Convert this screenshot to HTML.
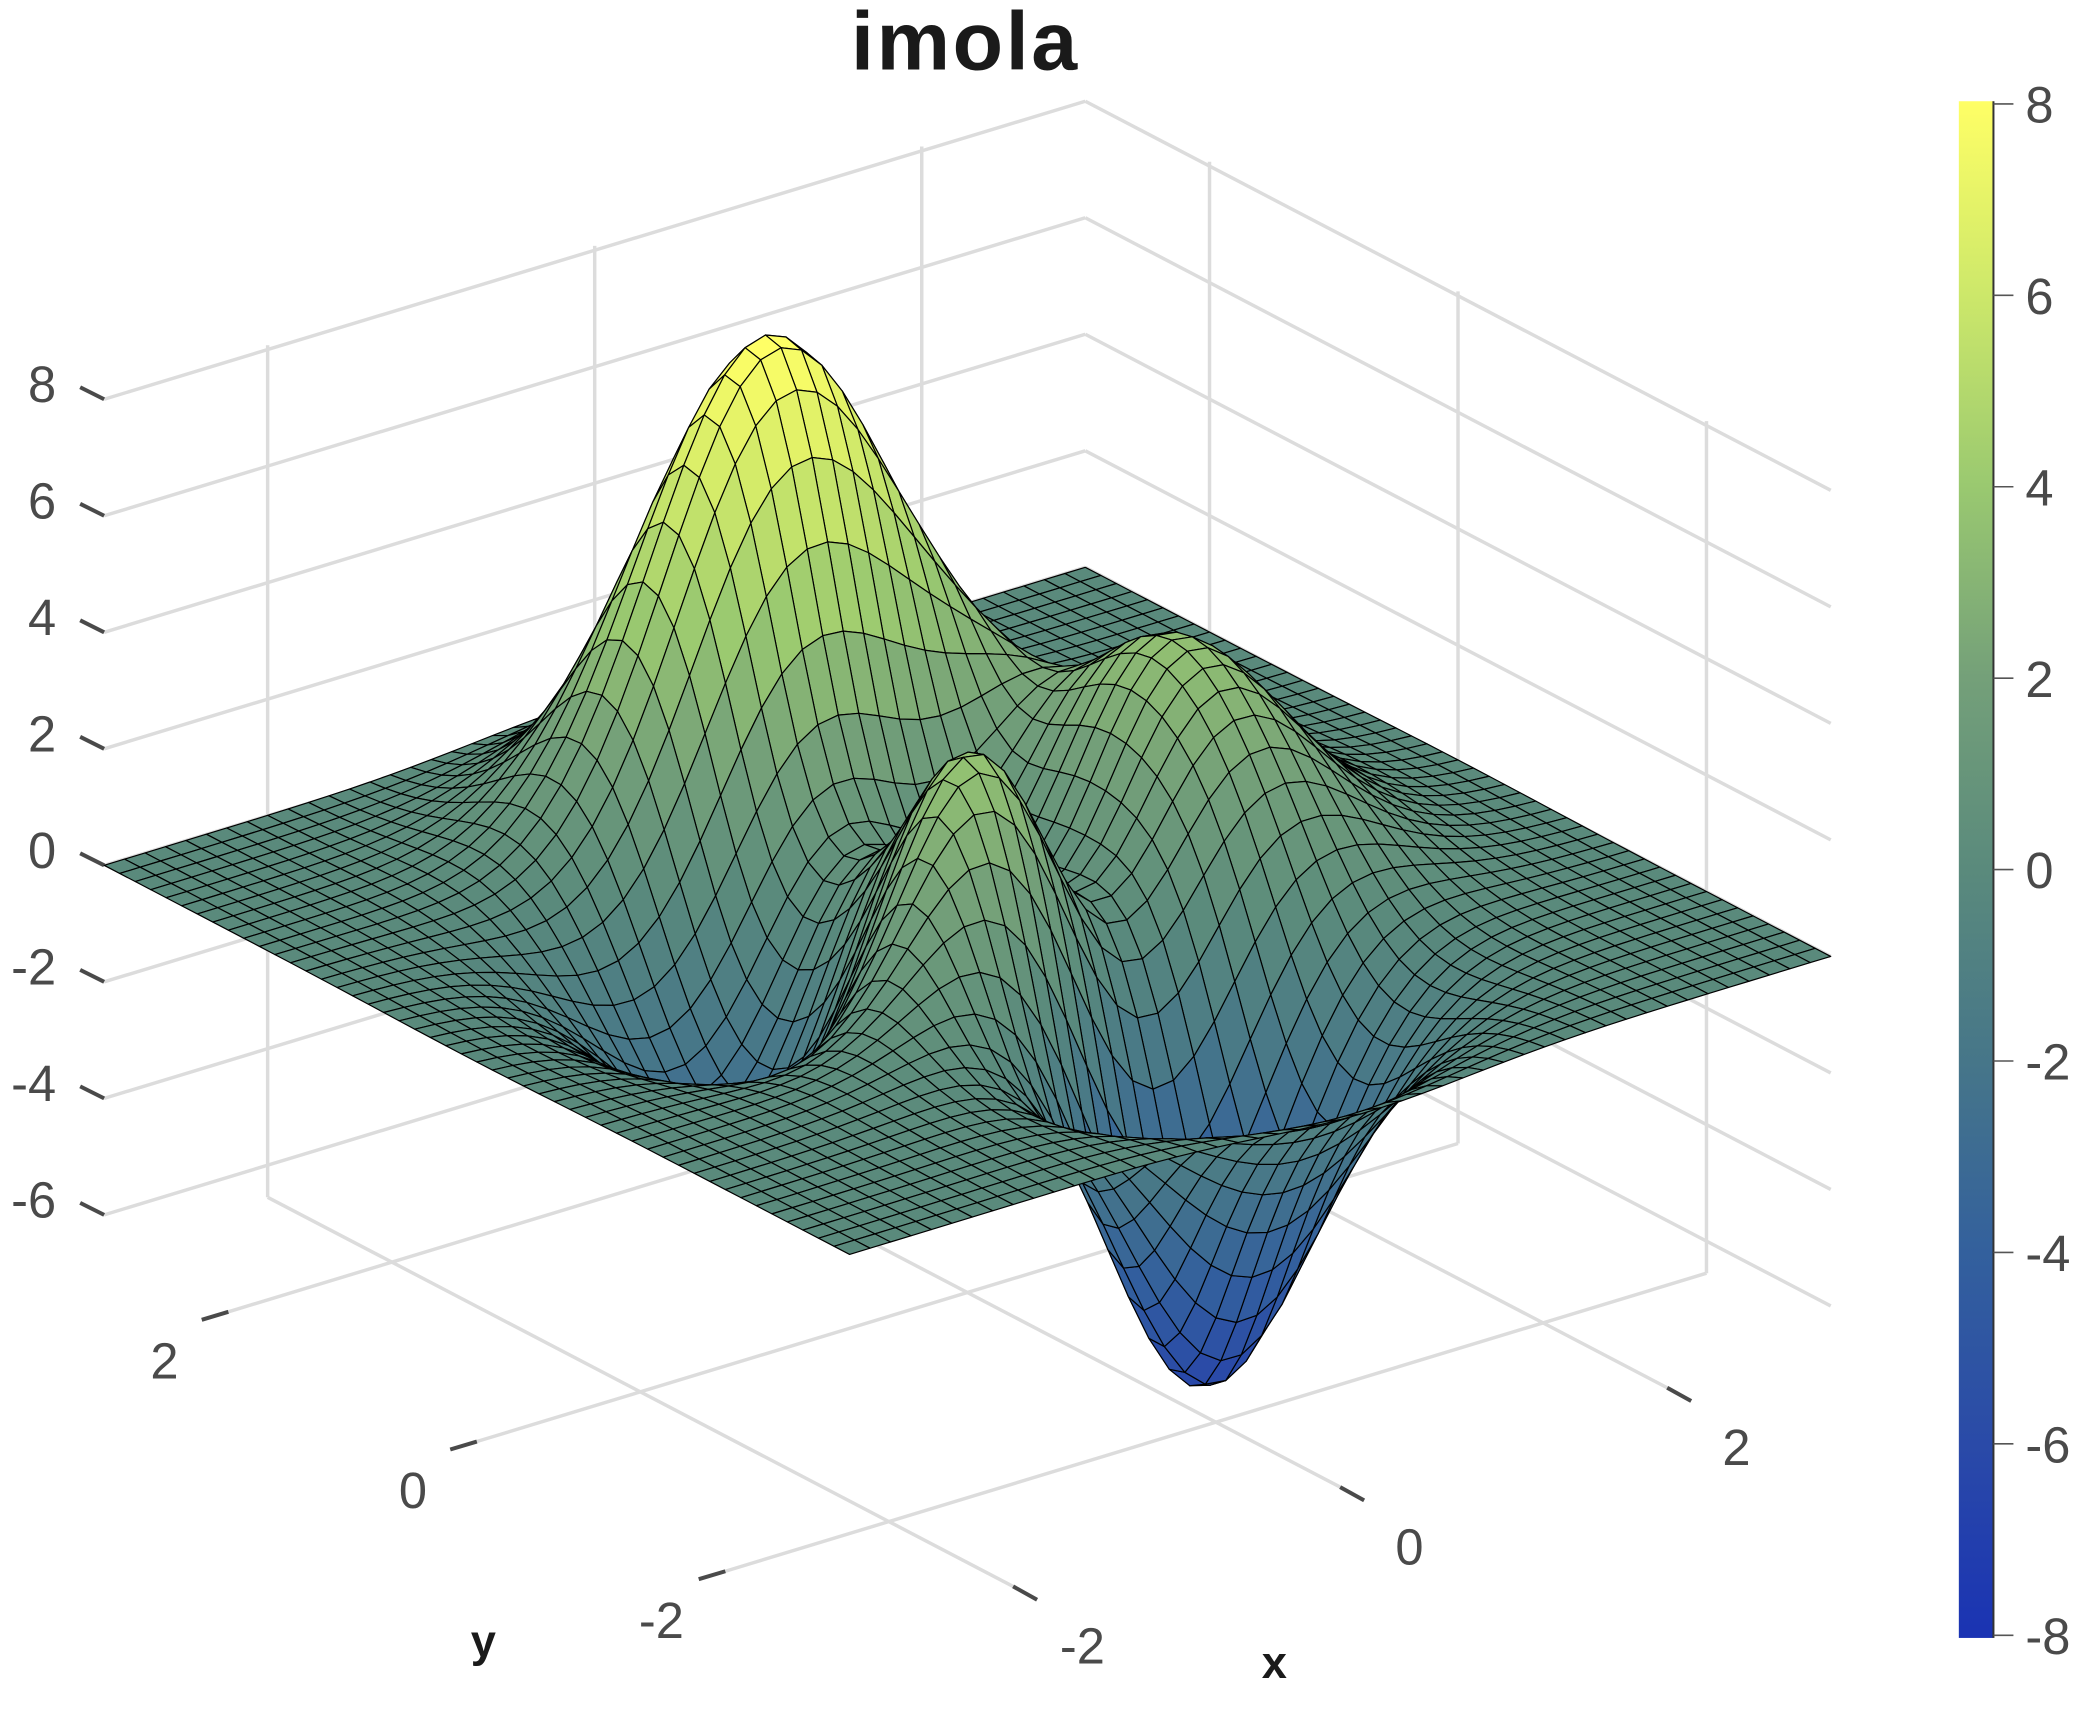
<!DOCTYPE html>
<html><head><meta charset="utf-8">
<style>
html,body{margin:0;padding:0;background:#fff;}
svg{display:block;}
text{font-family:"Liberation Sans",sans-serif;}
</style></head>
<body>
<svg id="chart" width="2088" height="1716" viewBox="0 0 1568 1288.6" xmlns="http://www.w3.org/2000/svg">
<rect x="0" y="0" width="1568" height="1288.6" fill="#ffffff"/>
<g id="grid"></g>
<g id="ticks"></g>
<g id="surf"></g>
<g id="cbar"></g>
<text x="725" y="52" text-anchor="middle" font-size="62" font-weight="bold" fill="#1a1a1a" letter-spacing="2">imola</text>
<text x="957" y="1260" text-anchor="middle" font-size="34" font-weight="bold" fill="#1a1a1a">x</text>
<text x="363" y="1244" text-anchor="middle" font-size="34" font-weight="bold" fill="#1a1a1a">y</text>
</svg>
<script>
const xTicks = [-2, 0, 2];
const yTicks = [-2, 0, 2];
const zTicks = [-6, -4, -2, 0, 2, 4, 6, 8];
const cbarTicks = [-8, -6, -4, -2, 0, 2, 4, 6, 8];
const xLim = [-3, 3];
const yLim = [-3, 3];
const zLim = [-6.5510, 8.0752];
const cLim = [-8, 8];
const gridN = 49;
const cmapStops = [[26,51,179],[42,74,168],[51,96,157],[70,118,137],[90,138,124],[116,160,121],[154,201,112],[205,232,106],[255,255,102]];

const NS = 'http://www.w3.org/2000/svg';
// projection (display coordinates)
const O = [726.5, 684], EX = [122.8, -37.3], EY = [-93.3, -48.7], EZ = -43.75;
function P(x, y, z) { return [O[0] + x * EX[0] + y * EY[0], O[1] + x * EX[1] + y * EY[1] + z * EZ]; }
function peaks(x, y) {
  return 3 * (1 - x) * (1 - x) * Math.exp(-x * x - (y + 1) * (y + 1))
    - 10 * (x / 5 - x * x * x - Math.pow(y, 5)) * Math.exp(-x * x - y * y)
    - 1 / 3 * Math.exp(-(x + 1) * (x + 1) - y * y);
}
function cmap(v) {
  let t = (v - cLim[0]) / (cLim[1] - cLim[0]); t = Math.max(0, Math.min(1, t));
  const f = t * (cmapStops.length - 1), i = Math.min(cmapStops.length - 2, Math.floor(f)), r = f - i;
  const a = cmapStops[i], b = cmapStops[i + 1];
  return 'rgb(' + [0, 1, 2].map(k => Math.round(a[k] + (b[k] - a[k]) * r)).join(',') + ')';
}
function line(g, p, q, stroke, w, name) {
  const l = document.createElementNS(NS, 'line');
  l.setAttribute('x1', p[0]); l.setAttribute('y1', p[1]); l.setAttribute('x2', q[0]); l.setAttribute('y2', q[1]);
  l.setAttribute('stroke', stroke); l.setAttribute('stroke-width', w);
  
  
  g.appendChild(l);
}
function text(g, x, y, s, anchor, name) {
  const t = document.createElementNS(NS, 'text');
  t.setAttribute('x', x); t.setAttribute('y', y); t.setAttribute('text-anchor', anchor);
  t.setAttribute('font-size', '38'); t.setAttribute('fill', '#4a4a4a');
  t.textContent = s;
  
  
  g.appendChild(t);
}
const grid = document.getElementById('grid');
const gc = '#dcdcdc', gw = 2.6;
const zf = zLim[0], zt = zLim[1];
// back wall y = 3
xTicks.forEach(x => line(grid, P(x, yLim[1], zf), P(x, yLim[1], zt), gc, gw, 'grid-line-x'));
zTicks.forEach(z => line(grid, P(xLim[0], yLim[1], z), P(xLim[1], yLim[1], z), gc, gw, 'grid-line-z'));
// back wall x = 3
yTicks.forEach(y => line(grid, P(xLim[1], y, zf), P(xLim[1], y, zt), gc, gw, 'grid-line-y'));
zTicks.forEach(z => line(grid, P(xLim[1], yLim[1], z), P(xLim[1], yLim[0], z), gc, gw, 'grid-line-z'));
// floor
xTicks.forEach(x => line(grid, P(x, yLim[0], zf), P(x, yLim[1], zf), gc, gw, 'floor-grid-line-x'));
yTicks.forEach(y => line(grid, P(xLim[0], y, zf), P(xLim[1], y, zf), gc, gw, 'floor-grid-line-y'));

const ticks = document.getElementById('ticks');
const tc = '#4a4a4a', tw = 3;
zTicks.forEach(z => {
  const p = P(xLim[0], yLim[1], z);
  line(ticks, p, [p[0] - 18, p[1] - 9], tc, tw, 'z-tick');
  text(ticks, p[0] - 36, p[1] + 2, String(z), 'end', 'z-tick-label');
});
yTicks.forEach(y => {
  const p = P(xLim[0], y, zf);
  line(ticks, p, [p[0] - 20, p[1] + 6], tc, tw, 'y-tick');
  text(ticks, p[0] - 48, p[1] + 50, String(y), 'middle', 'y-tick-label');
});
xTicks.forEach(x => {
  const p = P(x, yLim[0], zf);
  line(ticks, p, [p[0] + 18, p[1] + 10], tc, tw, 'x-tick');
  text(ticks, p[0] + 52, p[1] + 58, String(x), 'middle', 'x-tick-label');
});

// surface
const surf = document.getElementById('surf');
const X = [], Z = [];
for (let i = 0; i < gridN; i++) X.push(xLim[0] + (xLim[1] - xLim[0]) * i / (gridN - 1));
for (let j = 0; j < gridN; j++) { Z.push([]); for (let i = 0; i < gridN; i++) Z[j].push(peaks(X[i], X[j])); }
const quads = [];
for (let j = 0; j < gridN - 1; j++) for (let i = 0; i < gridN - 1; i++) quads.push([i, j, X[i] + X[j]]);
quads.sort((a, b) => b[2] - a[2]);
quads.forEach(([i, j]) => {
  const pts = [[i, j], [i + 1, j], [i + 1, j + 1], [i, j + 1]].map(([a, b]) => P(X[a], X[b], Z[b][a]));
  const c = (Z[j][i] + Z[j][i + 1] + Z[j + 1][i] + Z[j + 1][i + 1]) / 4;
  const pg = document.createElementNS(NS, 'polygon');
  pg.setAttribute('points', pts.map(p => p[0].toFixed(2) + ',' + p[1].toFixed(2)).join(' '));
  pg.setAttribute('fill', cmap(c));
  pg.setAttribute('stroke', '#000'); pg.setAttribute('stroke-width', '0.9'); pg.setAttribute('stroke-linejoin', 'round');
  
  
  surf.appendChild(pg);
});

// colorbar
const cb = document.getElementById('cbar');
const cbX = 1471, cbW = 26, cbTop = 76, cbBot = 1230;
const defs = document.createElementNS(NS, 'defs');
const lg = document.createElementNS(NS, 'linearGradient');
lg.setAttribute('id', 'cg'); lg.setAttribute('x1', '0'); lg.setAttribute('y1', '1'); lg.setAttribute('x2', '0'); lg.setAttribute('y2', '0');
cmapStops.forEach((s, k) => {
  const st = document.createElementNS(NS, 'stop');
  st.setAttribute('offset', k / (cmapStops.length - 1));
  st.setAttribute('stop-color', 'rgb(' + s.join(',') + ')');
  lg.appendChild(st);
});
defs.appendChild(lg); cb.appendChild(defs);
const r = document.createElementNS(NS, 'rect');
r.setAttribute('x', cbX); r.setAttribute('y', cbTop); r.setAttribute('width', cbW); r.setAttribute('height', cbBot - cbTop);
r.setAttribute('fill', 'url(#cg)');


cb.appendChild(r);
line(cb, [cbX + cbW, cbTop], [cbX + cbW, cbBot], '#333', 1.5, 'colorbar-axis');
cbarTicks.forEach(v => {
  const y = cbBot - 2 - (v - cLim[0]) / (cLim[1] - cLim[0]) * (cbBot - cbTop - 4);
  line(cb, [cbX + cbW, y], [cbX + cbW + 15, y], '#555', 1.2, 'colorbar-tick');
  text(cb, cbX + cbW + 24, y + 14, String(v), 'start', 'colorbar-tick-label');
});
</script>
</body></html>
